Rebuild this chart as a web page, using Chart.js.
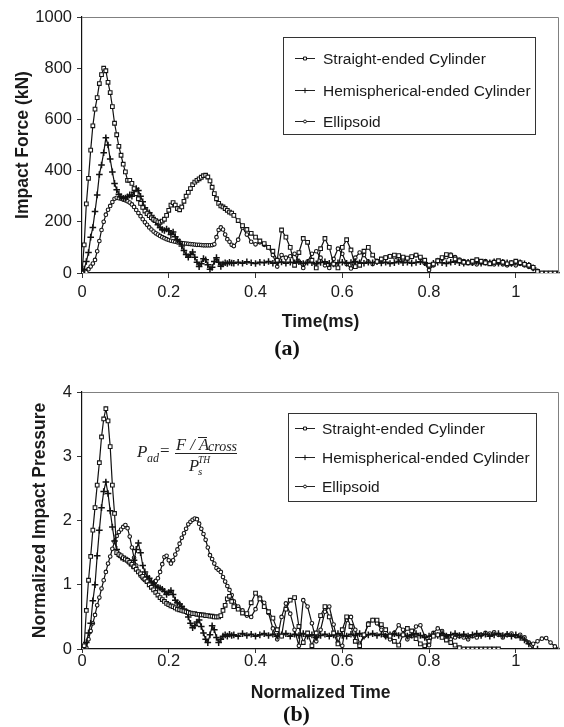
<!DOCTYPE html>
<html>
<head>
<meta charset="utf-8">
<script src="https://cdn.jsdelivr.net/npm/chart.js@4.4.1/dist/chart.umd.min.js"></script>
<style>
  body { margin: 0; background: #fff; }
  .panel { position: absolute; left: 0; }
</style>
</head>
<body>
<div class="panel" style="top:0"><canvas id="forceChart" width="564" height="366"></canvas></div>
<div class="panel" style="top:366px"><canvas id="pressureChart" width="564" height="361"></canvas></div>
<script>
'use strict';

// sample times (ms for panel a, normalized for panel b)
var sampleT = [
    0, 0.005, 0.01, 0.015, 0.02, 0.025, 0.03, 0.035, 0.04, 0.045,
    0.05, 0.055, 0.06, 0.065, 0.07, 0.075, 0.08, 0.085, 0.09, 0.095,
    0.1, 0.105, 0.11, 0.115, 0.12, 0.125, 0.13, 0.135, 0.14, 0.145,
    0.15, 0.155, 0.16, 0.165, 0.17, 0.175, 0.18, 0.185, 0.19, 0.195,
    0.2, 0.205, 0.21, 0.215, 0.22, 0.225, 0.23, 0.235, 0.24, 0.245,
    0.25, 0.255, 0.26, 0.265, 0.27, 0.275, 0.28, 0.285, 0.29, 0.295,
    0.3, 0.305, 0.31, 0.315, 0.32, 0.325, 0.33, 0.335, 0.34, 0.345,
    0.35,
    0.36, 0.37, 0.38, 0.39, 0.4, 0.41, 0.42, 0.43, 0.44, 0.45,
    0.46, 0.47, 0.48, 0.49, 0.5, 0.51, 0.52, 0.53, 0.54, 0.55,
    0.56, 0.57, 0.58, 0.59, 0.6, 0.61, 0.62, 0.63, 0.64, 0.65,
    0.66, 0.67, 0.68, 0.69, 0.7, 0.71, 0.72, 0.73, 0.74, 0.75,
    0.76, 0.77, 0.78, 0.79, 0.8, 0.81, 0.82, 0.83, 0.84, 0.85,
    0.86, 0.87, 0.88, 0.89, 0.9, 0.91, 0.92, 0.93, 0.94, 0.95,
    0.96, 0.97, 0.98, 0.99, 1, 1.01, 1.02, 1.03, 1.04, 1.05,
    1.06, 1.07, 1.08, 1.09, 1.1
];

var seriesNames = ['Straight-ended Cylinder', 'Hemispherical-ended Cylinder', 'Ellipsoid'];

// (a) impact force, kN
var forceStraight = [
    0, 110, 270, 370, 480, 575, 640, 685, 740, 775,
    800, 790, 745, 705, 650, 585, 540, 495, 460, 425,
    395, 362, 362, 350, 330, 310, 290, 272, 256, 242,
    232, 224, 216, 210, 205, 200, 198, 203, 210, 225,
    245, 265, 275, 265, 252, 247, 258, 280, 300, 315,
    330, 345, 355, 362, 368, 374, 380, 382, 375, 360,
    335, 310, 290, 272, 262, 258, 252, 245, 238, 234,
    225,
    205, 185, 170, 155, 140, 125, 115, 100, 85, 50,
    168, 140, 100, 30, 80, 135, 120, 50, 20, 95,
    135, 100, 35, 20, 100, 130, 90, 25, 30, 85,
    100, 70, 45, 55, 60, 65, 70, 68, 62, 58,
    64, 70, 62, 50, 30, 35, 48, 60, 72, 68,
    55, 48, 42, 40, 46, 52, 46, 40, 36, 42,
    48, 42, 36, 40, 46, 40, 34, 30, 22, 6,
    0, 0, 0, 0, 0
];
var forceHemi = [
    0, 15, 45, 80, 140, 178, 240, 305, 385, 422,
    470, 528, 500, 445, 395, 350, 325, 308, 298, 292,
    293, 298, 305, 300, 315, 330, 322, 300, 278, 255,
    240, 235, 225, 208, 200, 188, 178, 170, 166, 172,
    165, 150, 160, 142, 130, 122, 105, 88, 72, 62,
    72, 82, 62, 42, 25, 36, 56, 52, 32, 15,
    22, 45, 60, 42, 26, 35, 40, 37, 42, 39,
    38,
    42, 38, 44, 40, 37, 42, 40, 45, 38, 41,
    43, 38, 42, 40, 44, 37, 42, 40, 36, 41,
    44, 38, 35, 40, 42, 38, 41, 45, 40, 38,
    42, 40, 44, 39, 42, 37, 40, 45, 40, 42,
    38, 41, 44, 40, 28, 38, 42, 40, 37, 42,
    44, 40, 38, 42, 40, 45, 38, 42, 40, 44,
    38, 42, 40, 37, 42, 40, 36, 30, 20, null,
    null, null, null, null, null
];
var forceEllip = [
    0, 0, 3, 15, 25, 37, 51, 85, 125, 168,
    200, 228, 247, 262, 277, 290, 294, 292, 290, 287,
    284, 280, 275, 268, 258, 246, 234, 222, 210, 198,
    188, 178, 170, 162, 155, 150, 145, 140, 136, 132,
    129, 126, 124, 122, 120, 119, 117, 116, 115, 114,
    113, 112, 111, 110, 110, 109, 108, 108, 108, 108,
    109, 112, 140, 168, 178, 170, 150, 132, 122, 110,
    105,
    130, 178, 150, 122, 112, 120, 110, 100, 70, 25,
    70, 60, 65, 75, 45, 20, 45, 75, 85, 60,
    30, 20, 55, 95, 75, 35, 18, 60, 80, 70,
    45, 35, 45, 50, 60, 66, 62, 56, 52, 56,
    62, 70, 58, 38, 12, 30, 50, 56, 62, 72,
    62, 52, 46, 40, 38, 34, 40, 46, 40, 34,
    40, 34, 30, 36, 30, 36, 30, 24, 18, 8,
    null, null, null, null, null
];

// (b) normalized impact pressure
var pressStraight = [
    0, 0.05, 0.6, 1.07, 1.44, 1.85, 2.2, 2.55, 2.9, 3.3,
    3.58, 3.74, 3.55, 3.15, 2.55, 2.11, 1.5, 1.47, 1.45, 1.42,
    1.4, 1.38, 1.35, 1.32, 1.28, 1.24, 1.2, 1.17, 1.13, 1.09,
    1.05, 1.0, 0.96, 0.92, 0.88, 0.84, 0.8, 0.77, 0.74, 0.71,
    0.69, 0.67, 0.66, 0.64, 0.62, 0.61, 0.6, 0.59, 0.58, 0.57,
    0.56, 0.55, 0.55, 0.54, 0.54, 0.53, 0.53, 0.52, 0.52, 0.51,
    0.51, 0.5, 0.5, 0.5, 0.52, 0.6, 0.68, 0.78, 0.82, 0.74,
    0.66,
    0.62, 0.56, 0.55, 0.72, 0.87, 0.78, 0.66, 0.58, 0.48, 0.3,
    0.2, 0.62, 0.76, 0.8, 0.35, 0.1, 0.25, 0.05, 0.25, 0.52,
    0.66, 0.5, 0.25, 0.08, 0.3, 0.5, 0.35, 0.12, 0.05, 0.22,
    0.38, 0.45, 0.45, 0.38, 0.3, 0.2, 0.12, 0.06, 0.22, 0.32,
    0.28, 0.16, 0.08, 0.05, 0.12, 0.2, 0.22, 0.18, 0.14, 0.1,
    0.06, 0.02, 0, 0, 0, 0, 0, 0, 0, 0,
    0, null, null, null, null, null, null, null, null, null,
    null, null, null, null, null
];
var pressHemi = [
    0, 0, 0.1, 0.25, 0.4, 0.75, 1.0, 1.45, 1.85, 2.2,
    2.45, 2.6, 2.42, 2.15, 1.9, 1.68, 1.55, 1.47, 1.43, 1.41,
    1.4, 1.38, 1.34, 1.3, 1.38, 1.55, 1.65, 1.5, 1.3, 1.2,
    1.13, 1.1, 1.05, 1.02, 0.98, 0.96, 0.95, 0.93, 0.9, 0.85,
    0.88, 0.91, 0.85, 0.76, 0.72, 0.7, 0.66, 0.62, 0.58, 0.5,
    0.4, 0.33, 0.36, 0.42, 0.45, 0.35, 0.25, 0.15, 0.1, 0.22,
    0.36, 0.3, 0.18, 0.1, 0.15, 0.2, 0.22, 0.2, 0.23, 0.21,
    0.22,
    0.2, 0.24, 0.21, 0.23, 0.2, 0.22, 0.24, 0.21, 0.23, 0.2,
    0.22, 0.24, 0.2, 0.23, 0.21, 0.24, 0.2, 0.22, 0.18, 0.21,
    0.23, 0.2, 0.22, 0.24, 0.21, 0.2, 0.23, 0.21, 0.24, 0.2,
    0.22, 0.24, 0.21, 0.23, 0.2, 0.22, 0.24, 0.21, 0.23, 0.2,
    0.22, 0.24, 0.21, 0.18, 0.2, 0.23, 0.21, 0.24, 0.2, 0.22,
    0.24, 0.21, 0.23, 0.2, 0.22, 0.24, 0.21, 0.23, 0.2, 0.22,
    0.24, 0.21, 0.23, 0.2, 0.22, 0.18, 0.14, 0.08, 0, 0,
    null, null, null, null, null
];
var pressEllip = [
    0, 0, 0.02, 0.15, 0.28, 0.4, 0.53, 0.68, 0.8, 0.94,
    1.07, 1.2, 1.33, 1.44, 1.56, 1.67, 1.76, 1.82, 1.86, 1.9,
    1.93, 1.88, 1.75, 1.58, 1.42, 1.3, 1.2, 1.14, 1.1, 1.07,
    1.05, 1.03, 1.02, 1.03, 1.06, 1.1, 1.2, 1.32, 1.43, 1.45,
    1.38, 1.33, 1.38, 1.47, 1.55, 1.64, 1.73, 1.8, 1.87, 1.94,
    1.98, 2.01, 2.03, 2.02, 1.95, 1.87, 1.79, 1.7, 1.58, 1.46,
    1.4, 1.33, 1.26, 1.23, 1.2, 1.12, 1.05, 0.98, 0.92, 0.84,
    0.74,
    0.66, 0.6, 0.52, 0.5, 0.62, 0.8, 0.72, 0.56, 0.32, 0.15,
    0.5, 0.71, 0.55, 0.3, 0.05, 0.76, 0.66, 0.4, 0.12, 0.3,
    0.58, 0.66, 0.38, 0.1, 0.05, 0.45, 0.5, 0.3, 0.08, 0.2,
    0.4, 0.45, 0.4, 0.3, 0.2, 0.15, 0.25, 0.37, 0.3, 0.15,
    0.2, 0.35, 0.37, 0.2, 0.06, 0.25, 0.32, 0.28, 0.2, 0.15,
    0.18, 0.2, 0.18, 0.15, 0.2, 0.18, 0.22, 0.25, 0.24, 0.26,
    0.22, 0.18, 0.22, 0.24, 0.2, 0.22, 0.18, 0.1, 0.08, 0.12,
    0.16, 0.17, 0.1, 0.04, 0
];

var SANS = '"Liberation Sans", Arial, Helvetica, sans-serif';
var SERIF = '"Liberation Serif", "Times New Roman", serif';
var INK = '#1a1a1a';

Chart.defaults.font.family = SANS;
Chart.defaults.color = INK;

// marker look per series: squares, plus signs, small circles
var markerStyles = [
    { pointStyle: 'rect',   pointRadius: 2.6, pointBackgroundColor: '#fff', pointBorderColor: '#151515', pointBorderWidth: 1.1 },
    { pointStyle: 'cross',  pointRadius: 3.3, pointBackgroundColor: '#111', pointBorderColor: '#111', pointBorderWidth: 1.5 },
    { pointStyle: 'circle', pointRadius: 1.8, pointBackgroundColor: '#fff', pointBorderColor: '#151515', pointBorderWidth: 1.1 }
];

function makeDataset(i, values) {
    var ds = {
        label: seriesNames[i],
        data: sampleT.map(function (t, k) { return { x: t, y: values[k] }; }),
        borderColor: '#111',
        borderWidth: 1.2,
        fill: false,
        tension: 0,
        spanGaps: false,
        pointHoverRadius: 0
    };
    return Object.assign(ds, markerStyles[i]);
}

// legend drawn as a framed box inside the plot
var boxLegend = {
    id: 'boxLegend',
    afterDraw: function (chart, args, o) {
        var ctx = chart.ctx, a = chart.chartArea;
        var x0 = Math.round(a.left + o.dx), y0 = Math.round(a.top + o.dy);
        ctx.save();
        ctx.fillStyle = '#fff';
        ctx.fillRect(x0, y0, o.w, o.h);
        ctx.strokeStyle = '#333';
        ctx.lineWidth = 1;
        ctx.strokeRect(x0 + 0.5, y0 + 0.5, o.w, o.h);
        ctx.font = '15.5px ' + SANS;
        ctx.textBaseline = 'middle';
        chart.data.datasets.forEach(function (ds, i) {
            var y = Math.round(y0 + o.first + i * o.gap) + 0.5;
            ctx.strokeStyle = '#222';
            ctx.lineWidth = 1;
            ctx.beginPath();
            ctx.moveTo(x0 + o.lineX, y);
            ctx.lineTo(x0 + o.lineX + 20, y);
            ctx.stroke();
            ctx.fillStyle = ds.pointBackgroundColor;
            ctx.strokeStyle = ds.pointBorderColor;
            ctx.lineWidth = 1;
            Chart.helpers.drawPoint(ctx, {
                pointStyle: ds.pointStyle, radius: ds.pointRadius * 0.8,
                rotation: 0, borderWidth: 1
            }, x0 + o.lineX + 10, y);
            ctx.fillStyle = INK;
            ctx.fillText(ds.label, x0 + o.textX, y + 1);
        });
        ctx.restore();
    }
};

// grey frame on top and right of the plot area
var plotFrame = {
    id: 'plotFrame',
    afterDraw: function (chart) {
        var ctx = chart.ctx, a = chart.chartArea;
        ctx.save();
        ctx.strokeStyle = '#808080';
        ctx.lineWidth = 1;
        ctx.beginPath();
        ctx.moveTo(a.left, Math.round(a.top) + 0.5);
        ctx.lineTo(Math.round(a.right) - 0.5, Math.round(a.top) + 0.5);
        ctx.lineTo(Math.round(a.right) - 0.5, a.bottom);
        ctx.stroke();
        ctx.restore();
    }
};

// P_ad = (F / A_cross) / P_s^TH
var formula = {
    id: 'formula',
    afterDraw: function (chart) {
        var ctx = chart.ctx, a = chart.chartArea;
        var x = a.left + 55, y = a.top + 65;
        ctx.save();
        ctx.fillStyle = '#222';
        ctx.strokeStyle = '#222';
        ctx.textBaseline = 'alphabetic';
        ctx.font = 'italic 17px ' + SERIF;
        ctx.fillText('P', x, y);
        ctx.font = 'italic 12px ' + SERIF;
        ctx.fillText('ad', x + 10, y + 5);
        ctx.font = '17px ' + SERIF;
        ctx.fillText('=', x + 23, y - 1);
        ctx.font = 'italic 16.5px ' + SERIF;
        ctx.fillText('F / A', x + 39, y - 7);
        ctx.lineWidth = 1;
        ctx.beginPath();
        ctx.moveTo(x + 61, y - 19.5);
        ctx.lineTo(x + 70, y - 19.5);
        ctx.stroke();
        ctx.font = 'italic 14px ' + SERIF;
        ctx.fillText('cross', x + 71, y - 6);
        ctx.beginPath();
        ctx.moveTo(x + 38, y - 3.5);
        ctx.lineTo(x + 100, y - 3.5);
        ctx.stroke();
        ctx.font = 'italic 16.5px ' + SERIF;
        ctx.fillText('P', x + 52, y + 14);
        ctx.font = 'italic 9.5px ' + SERIF;
        ctx.fillText('TH', x + 61, y + 6);
        ctx.font = 'italic 11px ' + SERIF;
        ctx.fillText('s', x + 61, y + 18);
        ctx.restore();
    }
};

function makeScales(o) {
    return {
        x: {
            type: 'linear', min: 0, max: 1.1,
            ticks: {
                stepSize: 0.2, includeBounds: false, padding: o.xPad, maxRotation: 0,
                font: { size: 16.5, lineHeight: 1 }, color: INK,
                callback: function (v) { return String(Math.round(v * 10) / 10); }
            },
            grid: { display: true, drawOnChartArea: false, drawTicks: true, tickLength: o.xTick, color: '#333' },
            border: { display: true, color: '#111', width: 1.2 },
            title: {
                display: true, text: o.xTitle, color: INK,
                font: { size: 17.5, weight: 'bold', lineHeight: 1.2 },
                padding: { top: 0, bottom: o.xTitlePad }
            },
            afterFit: function (s) { s.height = o.xHeight; }
        },
        y: {
            type: 'linear', min: 0, max: o.yMax,
            ticks: {
                stepSize: o.yStep, padding: 5, font: { size: 16.5 }, color: INK,
                callback: function (v) { return String(v); }
            },
            grid: { display: true, drawOnChartArea: false, drawTicks: true, tickLength: 5, color: '#333' },
            border: { display: true, color: '#111', width: 1.2 },
            title: {
                display: true, text: o.yTitle, color: INK,
                font: { size: 17.5, weight: 'bold', lineHeight: 1.2 },
                padding: { top: 0, bottom: 0 }
            },
            afterFit: function (s) { s.width = o.yWidth; }
        }
    };
}

var forceChart = new Chart(document.getElementById('forceChart'), {
    type: 'line',
    data: {
        datasets: [
            makeDataset(0, forceStraight),
            makeDataset(1, forceHemi),
            makeDataset(2, forceEllip)
        ]
    },
    options: {
        responsive: false,
        animation: false,
        devicePixelRatio: 1,
        layout: { padding: { left: 13, top: 17, right: 3, bottom: 6 } },
        scales: makeScales({
            xTitle: 'Time(ms)', yTitle: 'Impact Force (kN)', yMax: 1000, yStep: 200,
            xPad: 6, xTick: 5, xTitlePad: 5, xHeight: 65, yWidth: 69
        }),
        plugins: {
            legend: { display: false },
            tooltip: { enabled: false },
            title: {
                display: true, text: '(a)', position: 'bottom', padding: 0, color: '#111',
                font: { family: SERIF, size: 22, weight: 'bold', lineHeight: 1 }
            },
            boxLegend: { dx: 201, dy: 20, w: 252, h: 97, first: 21, gap: 31.5, lineX: 12, textX: 40 }
        }
    },
    plugins: [plotFrame, boxLegend]
});

var pressureChart = new Chart(document.getElementById('pressureChart'), {
    type: 'line',
    data: {
        datasets: [
            makeDataset(0, pressStraight),
            makeDataset(1, pressHemi),
            makeDataset(2, pressEllip)
        ]
    },
    options: {
        responsive: false,
        animation: false,
        devicePixelRatio: 1,
        layout: { padding: { left: 30, top: 26, right: 1, bottom: 1 } },
        scales: makeScales({
            xTitle: 'Normalized Time', yTitle: 'Normalized Impact Pressure', yMax: 4, yStep: 1,
            xPad: 0, xTick: 4, xTitlePad: 0, xHeight: 55, yWidth: 52
        }),
        plugins: {
            legend: { display: false },
            tooltip: { enabled: false },
            title: {
                display: true, text: '(b)', position: 'bottom', padding: 0, color: '#111',
                font: { family: SERIF, size: 22, weight: 'bold', lineHeight: 1 }
            },
            boxLegend: { dx: 206, dy: 21, w: 248, h: 88, first: 15, gap: 29, lineX: 7, textX: 34 }
        }
    },
    plugins: [plotFrame, formula, boxLegend]
});
</script>
</body>
</html>
